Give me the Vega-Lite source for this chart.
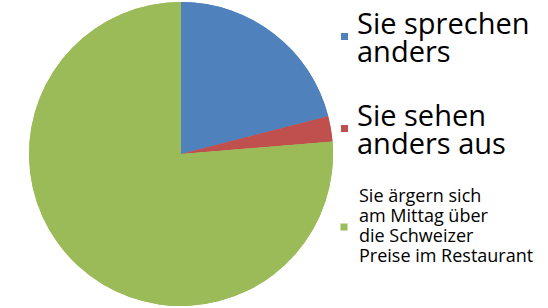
{
  "$schema": "https://vega.github.io/schema/vega-lite/v6.json",
  "width": 362,
  "height": 308,
  "padding": 0,
  "autosize": {"type": "pad"},
  "background": "white",
  "config": {"view": {"stroke": null}, "font": "Open Sans"},
  "data": {
    "values": [
      {"gruppe": "Sie sprechen|anders", "anteil": 21.0, "ord": 1},
      {"gruppe": "Sie sehen|anders aus", "anteil": 2.7, "ord": 2},
      {"gruppe": "Sie ärgern sich|am Mittag über|die Schweizer|Preise im Restaurant", "anteil": 76.3, "ord": 3}
    ]
  },
  "encoding": {
    "theta": {"field": "anteil", "type": "quantitative", "stack": true},
    "order": {"field": "ord", "type": "quantitative"}
  },
  "layer": [
    {
      "mark": {"type": "arc", "outerRadius": 152},
      "encoding": {
        "color": {
          "field": "gruppe",
          "type": "nominal",
          "scale": {
            "domain": ["Sie sprechen|anders", "Sie sehen|anders aus", "Sie ärgern sich|am Mittag über|die Schweizer|Preise im Restaurant"],
            "range": ["#4F81BD", "#C0504D", "#9BBB59"]
          },
          "legend": {
            "title": null,
            "values": ["Sie sprechen|anders", "Sie sehen|anders aus"],
            "orient": "none",
            "legendX": 330,
            "legendY": 22,
            "padding": 0,
            "symbolType": "square",
            "symbolSize": 49,
            "symbolStrokeWidth": 0,
            "labelExpr": "split(datum.label, '|')",
            "labelFontSize": 29,
            "labelColor": "black",
            "labelLimit": 300,
            "labelOffset": -2,
            "rowPadding": 34,
            "encode": {"labels": {"update": {"lineHeight": {"value": 28}, "dy": {"value": -12}}}}
          }
        }
      }
    },
    {
      "mark": {"type": "arc", "outerRadius": 152},
      "encoding": {
        "fill": {
          "field": "gruppe",
          "type": "nominal",
          "scale": {
            "domain": ["Sie ärgern sich|am Mittag über|die Schweizer|Preise im Restaurant", "Sie sprechen|anders", "Sie sehen|anders aus"],
            "range": ["#9BBB59", "#4F81BD", "#C0504D"]
          },
          "legend": {
            "title": null,
            "values": ["Sie ärgern sich|am Mittag über|die Schweizer|Preise im Restaurant"],
            "orient": "none",
            "legendX": 335,
            "legendY": 218,
            "padding": 0,
            "symbolType": "square",
            "symbolSize": 49,
            "symbolStrokeWidth": 0,
            "labelExpr": "split(datum.label, '|')",
            "labelFontSize": 18,
            "labelColor": "black",
            "labelLimit": 300,
            "labelOffset": 6,
            "encode": {"labels": {"update": {"lineHeight": {"value": 20}, "dy": {"value": -30}}}}
          }
        }
      }
    }
  ]
}
